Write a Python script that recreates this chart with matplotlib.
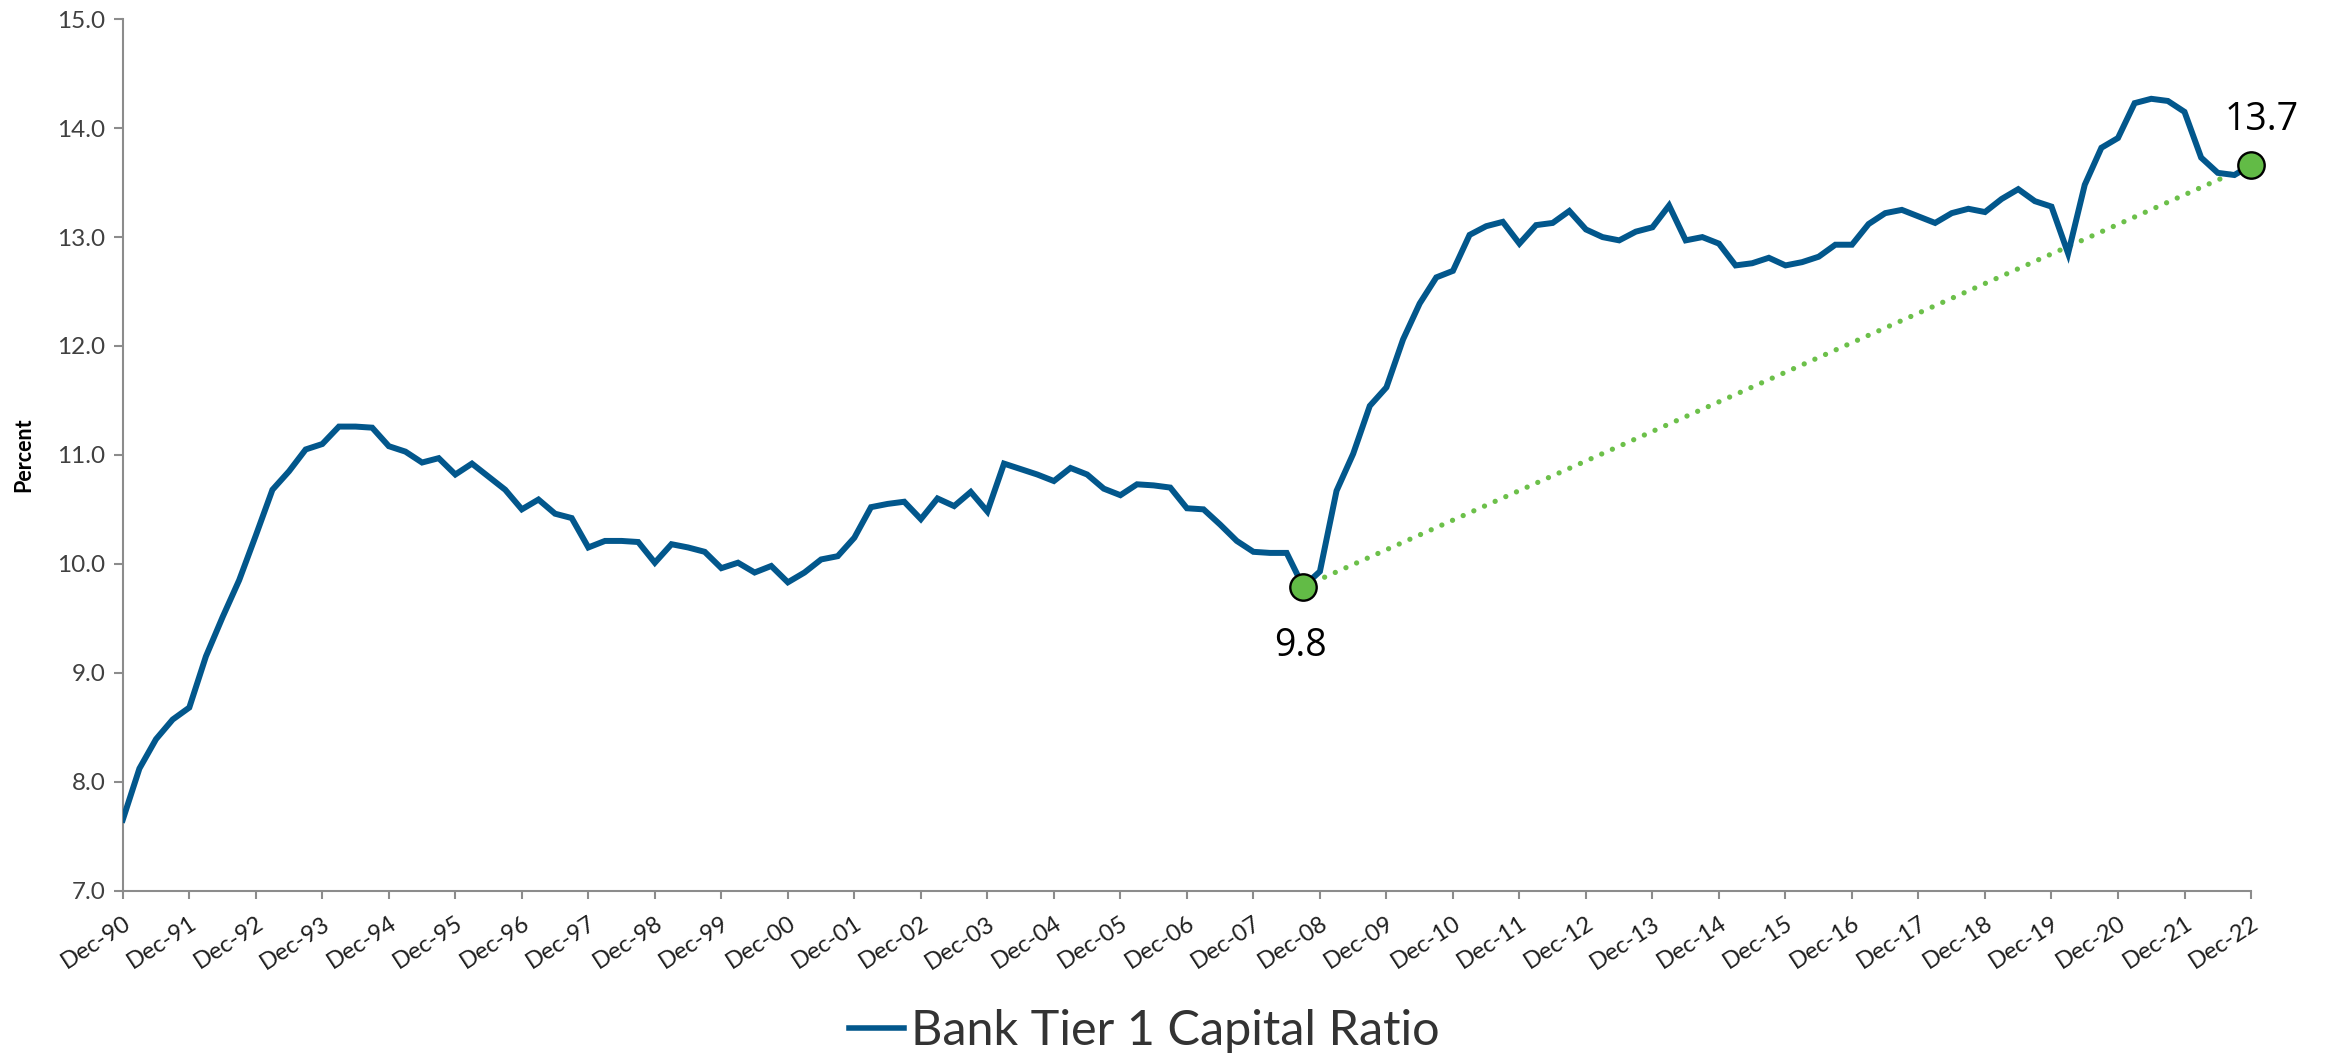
import matplotlib
matplotlib.use("Agg")
import matplotlib.pyplot as plt
from matplotlib.lines import Line2D

# Quarterly bank Tier 1 capital ratio (percent), Dec-1990 through Dec-2022
ratio = [
    7.65, 8.12, 8.39, 8.57, 8.68, 9.15, 9.51, 9.85,
    10.26, 10.68, 10.85, 11.05, 11.10, 11.26, 11.26, 11.25,
    11.08, 11.03, 10.93, 10.97, 10.82, 10.92, 10.80, 10.68,
    10.50, 10.59, 10.46, 10.42, 10.15, 10.21, 10.21, 10.20,
    10.01, 10.18, 10.15, 10.11, 9.96, 10.01, 9.92, 9.98,
    9.83, 9.92, 10.04, 10.07, 10.24, 10.52, 10.55, 10.57,
    10.41, 10.60, 10.53, 10.66, 10.48, 10.92, 10.87, 10.82,
    10.76, 10.88, 10.82, 10.69, 10.63, 10.73, 10.72, 10.70,
    10.51, 10.50, 10.36, 10.21, 10.11, 10.10, 10.10, 9.79,
    9.93, 10.67, 11.01, 11.45, 11.62, 12.06, 12.39, 12.63,
    12.69, 13.02, 13.10, 13.14, 12.94, 13.11, 13.13, 13.24,
    13.07, 13.00, 12.97, 13.05, 13.09, 13.29, 12.97, 13.00,
    12.94, 12.74, 12.76, 12.81, 12.74, 12.77, 12.82, 12.93,
    12.93, 13.12, 13.22, 13.25, 13.19, 13.13, 13.22, 13.26,
    13.23, 13.35, 13.44, 13.33, 13.28, 12.85, 13.48, 13.82,
    13.91, 14.23, 14.27, 14.25, 14.15, 13.73, 13.59, 13.57,
    13.66,
]

tick_labels = [
    "Dec-90", "Dec-91", "Dec-92", "Dec-93", "Dec-94", "Dec-95", "Dec-96",
    "Dec-97", "Dec-98", "Dec-99", "Dec-00", "Dec-01", "Dec-02", "Dec-03",
    "Dec-04", "Dec-05", "Dec-06", "Dec-07", "Dec-08", "Dec-09", "Dec-10",
    "Dec-11", "Dec-12", "Dec-13", "Dec-14", "Dec-15", "Dec-16", "Dec-17",
    "Dec-18", "Dec-19", "Dec-20", "Dec-21", "Dec-22",
]

y_ticks = [7.0, 8.0, 9.0, 10.0, 11.0, 12.0, 13.0, 14.0, 15.0]

series_name = "Bank Tier 1 Capital Ratio"

# Quarters highlighted: financial-crisis trough and the latest reading
trough_q = 71
latest_q = len(ratio) - 1

LINE_BLUE = "#02578c"
GREEN = "#62bb46"
DOT_GREEN = "#6cc04a"
AXIS_GRAY = "#8c8c8c"

plt.rcParams["font.family"] = ["Lato", "DejaVu Sans"]

fig = plt.figure(figsize=(23.3, 10.6), dpi=100)
ax = fig.add_axes([0.0527, 0.1599, 0.9134, 0.8219])

quarters = list(range(len(ratio)))
ax.plot(quarters, ratio, color=LINE_BLUE, lw=4.3, solid_joinstyle="miter",
        zorder=3)

# Dotted connector between the two highlighted readings
ax.plot([trough_q, latest_q], [ratio[trough_q], ratio[latest_q]],
        color=DOT_GREEN, lw=3.8, dashes=(0.01, 2.2), dash_capstyle="round",
        zorder=2)

for q in (trough_q, latest_q):
    ax.plot(q, ratio[q], marker="o", ms=19, mfc=GREEN, mec="black",
            mew=1.7, zorder=4, clip_on=False)

ax.annotate(f"{ratio[trough_q]:.1f}", (trough_q, ratio[trough_q]),
            xytext=(-2, -29), textcoords="offset points",
            ha="center", va="top", fontsize=27, color="black",
            family=["Open Sans", "DejaVu Sans"])
ax.annotate(f"{ratio[latest_q]:.1f}", (latest_q, ratio[latest_q]),
            xytext=(8, 19), textcoords="offset points",
            ha="center", va="bottom", fontsize=27, color="black",
            family=["Open Sans", "DejaVu Sans"])

ax.set_xlim(0, latest_q)
ax.set_ylim(7, 15)

ax.set_xticks(list(range(0, len(ratio), 4)))
ax.set_xticklabels(tick_labels, rotation=33, ha="right",
                   rotation_mode="anchor", fontsize=17, color="#1e1e1e")
ax.set_yticks(y_ticks)
ax.set_yticklabels([f"{v:.1f}" for v in y_ticks], fontsize=17.5,
                   color="#404040")

ax.tick_params(axis="x", direction="out", length=6, width=1.5,
               color=AXIS_GRAY, pad=10)
ax.tick_params(axis="y", direction="out", length=6.5, width=1.5,
               color=AXIS_GRAY, pad=6)

for side in ("top", "right"):
    ax.spines[side].set_visible(False)
for side in ("left", "bottom"):
    ax.spines[side].set_color(AXIS_GRAY)
    ax.spines[side].set_linewidth(1.5)

fig.text(0.010, 0.5707, "Percent", rotation=90, ha="center", va="center",
         fontsize=15.5, fontweight="bold", color="black")

handle = Line2D([], [], color=LINE_BLUE, lw=4)
fig.legend([handle], [series_name], loc="center",
           bbox_to_anchor=(0.491, 0.027), frameon=False, fontsize=35,
           handlelength=1.13, handletextpad=0.15, labelcolor="#333333")

fig.savefig("out.png", dpi=100)
